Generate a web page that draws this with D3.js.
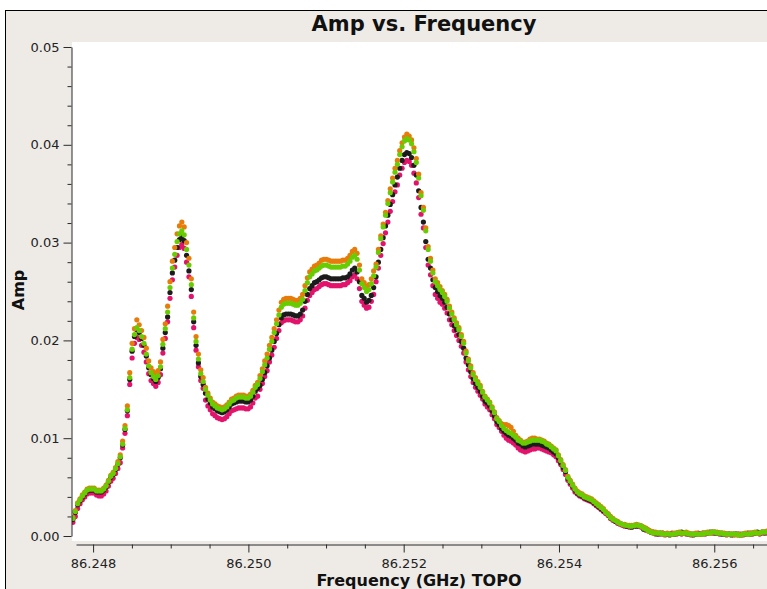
<!DOCTYPE html>
<html>
<head>
<meta charset="utf-8">
<title>Amp vs. Frequency</title>
<script src="https://cdn.jsdelivr.net/npm/d3@7"></script>
<style>
  html, body { margin: 0; padding: 0; background: #ffffff; }
  svg { display: block; }
</style>
</head>
<body>
<svg id="chart" width="767" height="589"></svg>
<script>
// Spectral window: first channel frequency and channel width (GHz)
const chanFreq0 = 86.24774;
const chanWidth = 0.0000305;

// Visibility amplitude per channel, one array per plotted series
const ampMagenta = [
0.0014,0.0020,0.0028,0.0033,0.0037,0.0040,0.0043,0.0044,0.0044,0.0044,
0.0042,0.0041,0.0041,0.0043,0.0046,0.0051,0.0056,0.0059,0.0064,0.0069,
0.0075,0.0090,0.0105,0.0123,0.0155,0.0182,0.0197,0.0203,0.0201,0.0195,
0.0188,0.0178,0.0166,0.0159,0.0156,0.0153,0.0157,0.0165,0.0187,0.0202,
0.0219,0.0243,0.0262,0.0275,0.0287,0.0295,0.0298,0.0294,0.0280,0.0265,
0.0245,0.0213,0.0190,0.0173,0.0159,0.0151,0.0139,0.0133,0.0129,0.0125,
0.0123,0.0121,0.0120,0.0119,0.0120,0.0122,0.0125,0.0128,0.0129,0.0130,
0.0131,0.0131,0.0131,0.0130,0.0130,0.0132,0.0136,0.0141,0.0143,0.0150,
0.0156,0.0163,0.0169,0.0178,0.0185,0.0193,0.0202,0.0210,0.0218,0.0220,
0.0221,0.0221,0.0221,0.0220,0.0219,0.0219,0.0221,0.0225,0.0233,0.0241,
0.0246,0.0249,0.0252,0.0253,0.0255,0.0257,0.0258,0.0258,0.0257,0.0256,
0.0256,0.0256,0.0256,0.0256,0.0257,0.0257,0.0259,0.0261,0.0265,0.0267,
0.0263,0.0253,0.0240,0.0236,0.0233,0.0234,0.0240,0.0247,0.0260,0.0274,
0.0287,0.0299,0.0310,0.0321,0.0332,0.0342,0.0352,0.0359,0.0369,0.0376,
0.0382,0.0384,0.0383,0.0379,0.0371,0.0361,0.0346,0.0329,0.0315,0.0295,
0.0277,0.0267,0.0256,0.0247,0.0243,0.0239,0.0237,0.0233,0.0228,0.0221,
0.0216,0.0210,0.0205,0.0200,0.0194,0.0187,0.0178,0.0170,0.0163,0.0157,
0.0152,0.0148,0.0144,0.0140,0.0135,0.0132,0.0129,0.0124,0.0120,0.0114,
0.0111,0.0107,0.0103,0.0100,0.0098,0.0097,0.0095,0.0093,0.0090,0.0088,
0.0087,0.0086,0.0087,0.0088,0.0089,0.0089,0.0090,0.0090,0.0089,0.0088,
0.0087,0.0086,0.0085,0.0083,0.0081,0.0077,0.0073,0.0068,0.0063,0.0057,
0.0053,0.0049,0.0045,0.0043,0.0041,0.0040,0.0038,0.0037,0.0036,0.0035,
0.0033,0.0031,0.0029,0.0027,0.0025,0.0023,0.0021,0.0018,0.0016,0.0015,
0.0013,0.0012,0.0011,0.0010,0.0010,0.0009,0.0010,0.0010,0.0011,0.0010,
0.0009,0.0008,0.0006,0.0005,0.0004,0.0003,0.0002,0.0003,0.0002,0.0002,
0.0001,0.0002,0.0002,0.0003,0.0002,0.0002,0.0003,0.0002,0.0003,0.0002,
0.0002,0.0001,0.0002,0.0002,0.0003,0.0002,0.0002,0.0002,0.0003,0.0003,
0.0003,0.0004,0.0003,0.0002,0.0003,0.0002,0.0001,0.0002,0.0002,0.0001,
0.0002,0.0001,0.0002,0.0001,0.0002,0.0002,0.0003,0.0002,0.0003,0.0003,
0.0002,0.0003,0.0004,0.0003
];

const ampBlack = [
0.0017,0.0024,0.0032,0.0036,0.0040,0.0043,0.0046,0.0047,0.0047,0.0047,
0.0045,0.0045,0.0045,0.0047,0.0050,0.0055,0.0060,0.0063,0.0068,0.0073,
0.0080,0.0093,0.0109,0.0128,0.0160,0.0189,0.0204,0.0211,0.0208,0.0202,
0.0195,0.0184,0.0172,0.0165,0.0161,0.0158,0.0162,0.0171,0.0192,0.0208,
0.0224,0.0249,0.0269,0.0282,0.0295,0.0303,0.0306,0.0302,0.0287,0.0271,
0.0252,0.0219,0.0195,0.0177,0.0163,0.0155,0.0146,0.0140,0.0136,0.0132,
0.0130,0.0128,0.0127,0.0126,0.0127,0.0129,0.0132,0.0135,0.0136,0.0137,
0.0138,0.0138,0.0138,0.0137,0.0137,0.0139,0.0143,0.0148,0.0151,0.0154,
0.0160,0.0167,0.0174,0.0182,0.0190,0.0199,0.0207,0.0216,0.0223,0.0226,
0.0227,0.0227,0.0227,0.0226,0.0225,0.0225,0.0227,0.0231,0.0240,0.0247,
0.0253,0.0256,0.0259,0.0260,0.0262,0.0264,0.0265,0.0265,0.0264,0.0263,
0.0263,0.0263,0.0263,0.0263,0.0264,0.0264,0.0265,0.0268,0.0272,0.0274,
0.0270,0.0260,0.0246,0.0243,0.0239,0.0241,0.0246,0.0254,0.0265,0.0280,
0.0293,0.0305,0.0317,0.0328,0.0339,0.0349,0.0359,0.0367,0.0376,0.0384,
0.0390,0.0392,0.0391,0.0387,0.0379,0.0369,0.0353,0.0336,0.0321,0.0301,
0.0283,0.0274,0.0262,0.0254,0.0250,0.0246,0.0243,0.0239,0.0234,0.0227,
0.0221,0.0215,0.0211,0.0206,0.0199,0.0192,0.0182,0.0175,0.0168,0.0161,
0.0156,0.0152,0.0148,0.0143,0.0138,0.0136,0.0133,0.0128,0.0123,0.0117,
0.0114,0.0110,0.0107,0.0105,0.0103,0.0102,0.0100,0.0098,0.0095,0.0094,
0.0092,0.0091,0.0092,0.0093,0.0094,0.0094,0.0094,0.0094,0.0093,0.0092,
0.0091,0.0090,0.0088,0.0086,0.0084,0.0080,0.0075,0.0070,0.0066,0.0059,
0.0055,0.0051,0.0047,0.0044,0.0042,0.0041,0.0039,0.0038,0.0037,0.0036,
0.0034,0.0032,0.0030,0.0028,0.0026,0.0024,0.0022,0.0019,0.0017,0.0015,
0.0014,0.0013,0.0012,0.0011,0.0010,0.0010,0.0009,0.0011,0.0010,0.0011,
0.0010,0.0007,0.0007,0.0006,0.0004,0.0004,0.0003,0.0002,0.0003,0.0003,
0.0002,0.0002,0.0001,0.0002,0.0002,0.0003,0.0003,0.0004,0.0003,0.0003,
0.0002,0.0002,0.0001,0.0002,0.0002,0.0002,0.0003,0.0003,0.0003,0.0004,
0.0004,0.0003,0.0003,0.0003,0.0002,0.0002,0.0002,0.0002,0.0001,0.0002,
0.0002,0.0002,0.0001,0.0002,0.0002,0.0003,0.0002,0.0003,0.0003,0.0004,
0.0003,0.0004,0.0003,0.0004
];

const ampOrange = [
0.0019,0.0026,0.0034,0.0038,0.0042,0.0045,0.0048,0.0049,0.0049,0.0049,
0.0047,0.0047,0.0047,0.0049,0.0052,0.0057,0.0062,0.0065,0.0070,0.0076,
0.0083,0.0097,0.0113,0.0133,0.0167,0.0197,0.0212,0.0221,0.0216,0.0210,
0.0203,0.0192,0.0179,0.0172,0.0168,0.0165,0.0169,0.0178,0.0201,0.0217,
0.0235,0.0260,0.0281,0.0295,0.0309,0.0317,0.0321,0.0316,0.0300,0.0284,
0.0263,0.0229,0.0204,0.0186,0.0170,0.0162,0.0152,0.0146,0.0141,0.0137,
0.0135,0.0133,0.0132,0.0131,0.0132,0.0134,0.0137,0.0140,0.0141,0.0143,
0.0144,0.0144,0.0144,0.0143,0.0143,0.0145,0.0149,0.0154,0.0157,0.0164,
0.0171,0.0179,0.0186,0.0195,0.0203,0.0212,0.0221,0.0231,0.0239,0.0242,
0.0243,0.0243,0.0243,0.0242,0.0241,0.0241,0.0243,0.0247,0.0256,0.0264,
0.0270,0.0273,0.0276,0.0277,0.0279,0.0282,0.0283,0.0283,0.0282,0.0281,
0.0281,0.0281,0.0281,0.0281,0.0282,0.0282,0.0284,0.0287,0.0291,0.0293,
0.0289,0.0277,0.0263,0.0259,0.0255,0.0257,0.0263,0.0271,0.0278,0.0293,
0.0307,0.0319,0.0331,0.0343,0.0355,0.0366,0.0376,0.0384,0.0394,0.0402,
0.0408,0.0411,0.0409,0.0405,0.0397,0.0386,0.0370,0.0351,0.0336,0.0315,
0.0296,0.0284,0.0272,0.0263,0.0259,0.0255,0.0251,0.0247,0.0242,0.0235,
0.0229,0.0223,0.0218,0.0213,0.0206,0.0199,0.0189,0.0181,0.0174,0.0167,
0.0162,0.0158,0.0154,0.0148,0.0143,0.0140,0.0137,0.0132,0.0127,0.0121,
0.0118,0.0115,0.0114,0.0114,0.0113,0.0111,0.0107,0.0103,0.0100,0.0098,
0.0096,0.0096,0.0097,0.0099,0.0100,0.0100,0.0099,0.0099,0.0098,0.0097,
0.0095,0.0094,0.0092,0.0090,0.0088,0.0083,0.0078,0.0073,0.0068,0.0061,
0.0057,0.0053,0.0049,0.0046,0.0044,0.0043,0.0041,0.0040,0.0039,0.0038,
0.0036,0.0034,0.0032,0.0030,0.0028,0.0025,0.0023,0.0020,0.0018,0.0016,
0.0015,0.0013,0.0012,0.0012,0.0011,0.0011,0.0011,0.0011,0.0012,0.0011,
0.0010,0.0009,0.0008,0.0006,0.0005,0.0004,0.0004,0.0003,0.0003,0.0003,
0.0002,0.0003,0.0002,0.0002,0.0003,0.0003,0.0004,0.0003,0.0003,0.0004,
0.0003,0.0002,0.0002,0.0003,0.0002,0.0002,0.0003,0.0003,0.0004,0.0003,
0.0004,0.0004,0.0004,0.0003,0.0003,0.0003,0.0002,0.0002,0.0002,0.0002,
0.0001,0.0002,0.0001,0.0002,0.0003,0.0002,0.0003,0.0003,0.0004,0.0003,
0.0003,0.0004,0.0004,0.0005
];

const ampGreen = [
0.0018,0.0025,0.0033,0.0037,0.0041,0.0044,0.0047,0.0048,0.0048,0.0048,
0.0046,0.0046,0.0046,0.0048,0.0051,0.0056,0.0061,0.0064,0.0069,0.0074,
0.0081,0.0094,0.0110,0.0129,0.0162,0.0191,0.0206,0.0213,0.0210,0.0204,
0.0197,0.0186,0.0174,0.0167,0.0163,0.0160,0.0164,0.0173,0.0196,0.0212,
0.0229,0.0254,0.0274,0.0288,0.0301,0.0309,0.0312,0.0308,0.0293,0.0277,
0.0257,0.0223,0.0199,0.0181,0.0166,0.0158,0.0150,0.0144,0.0139,0.0135,
0.0133,0.0131,0.0130,0.0129,0.0130,0.0132,0.0135,0.0138,0.0139,0.0141,
0.0142,0.0142,0.0142,0.0141,0.0141,0.0143,0.0147,0.0152,0.0155,0.0161,
0.0168,0.0175,0.0182,0.0191,0.0199,0.0208,0.0217,0.0226,0.0234,0.0237,
0.0238,0.0238,0.0238,0.0237,0.0236,0.0236,0.0238,0.0242,0.0251,0.0259,
0.0265,0.0268,0.0271,0.0272,0.0274,0.0276,0.0277,0.0277,0.0276,0.0275,
0.0275,0.0275,0.0275,0.0275,0.0276,0.0276,0.0278,0.0281,0.0285,0.0287,
0.0283,0.0272,0.0258,0.0254,0.0250,0.0252,0.0258,0.0266,0.0275,0.0290,
0.0304,0.0316,0.0328,0.0340,0.0351,0.0362,0.0372,0.0380,0.0390,0.0398,
0.0404,0.0406,0.0405,0.0401,0.0393,0.0382,0.0366,0.0348,0.0333,0.0312,
0.0293,0.0281,0.0269,0.0260,0.0256,0.0252,0.0249,0.0245,0.0240,0.0233,
0.0227,0.0221,0.0216,0.0211,0.0204,0.0197,0.0187,0.0179,0.0172,0.0165,
0.0160,0.0156,0.0152,0.0147,0.0142,0.0139,0.0136,0.0131,0.0126,0.0120,
0.0117,0.0113,0.0110,0.0108,0.0106,0.0105,0.0103,0.0101,0.0098,0.0097,
0.0095,0.0095,0.0096,0.0097,0.0098,0.0098,0.0098,0.0098,0.0097,0.0096,
0.0094,0.0093,0.0091,0.0089,0.0087,0.0082,0.0077,0.0072,0.0067,0.0060,
0.0056,0.0052,0.0048,0.0045,0.0043,0.0042,0.0040,0.0039,0.0038,0.0037,
0.0035,0.0033,0.0031,0.0029,0.0027,0.0024,0.0022,0.0019,0.0017,0.0016,
0.0014,0.0013,0.0012,0.0011,0.0011,0.0010,0.0010,0.0011,0.0011,0.0011,
0.0010,0.0008,0.0007,0.0005,0.0004,0.0003,0.0003,0.0003,0.0003,0.0002,
0.0002,0.0002,0.0002,0.0002,0.0002,0.0003,0.0003,0.0003,0.0003,0.0003,
0.0002,0.0002,0.0002,0.0002,0.0002,0.0002,0.0002,0.0003,0.0003,0.0003,
0.0004,0.0004,0.0003,0.0003,0.0003,0.0002,0.0002,0.0002,0.0002,0.0002,
0.0002,0.0001,0.0001,0.0002,0.0002,0.0002,0.0002,0.0003,0.0003,0.0003,
0.0003,0.0004,0.0004,0.0004
];

// Axis ticks
const xTicks = [86.248, 86.250, 86.252, 86.254, 86.256];
const yTicks = [0.00, 0.01, 0.02, 0.03, 0.04, 0.05];

// Drawing order: later series sit on top
const series = [
  { color: "#e3136b", values: ampMagenta },
  { color: "#1c1c1c", values: ampBlack },
  { color: "#e87c0a", values: ampOrange },
  { color: "#68cc02", values: ampGreen }
];

const svg = d3.select("#chart");
const W = 767, H = 589;

// Panel frame
svg.append("rect")
  .attr("x", 5.5).attr("y", 10.5)
  .attr("width", W + 20).attr("height", H + 20)
  .attr("fill", "#eeebe7").attr("stroke", "#000").attr("stroke-width", 1);

// Plot canvas
const canvas = { left: 72, top: 42, right: W + 5, bottom: 541 };
svg.append("rect")
  .attr("x", canvas.left).attr("y", canvas.top)
  .attr("width", canvas.right - canvas.left).attr("height", canvas.bottom - canvas.top)
  .attr("fill", "#ffffff");

// Scales
const x = d3.scaleLinear().domain([86.24778, 86.2568]).range([76, 776.4]);
const y = d3.scaleLinear().domain([0, 0.05]).range([536, 47]);

// Points
svg.append("clipPath").attr("id", "canvasClip")
  .append("rect")
  .attr("x", canvas.left).attr("y", canvas.top)
  .attr("width", canvas.right - canvas.left).attr("height", canvas.bottom - canvas.top);

const pts = svg.append("g").attr("clip-path", "url(#canvasClip)");
series.forEach(s => {
  pts.append("g")
    .attr("fill", s.color)
    .selectAll("circle")
    .data(s.values)
    .join("circle")
    .attr("cx", (d, i) => x(chanFreq0 + i * chanWidth))
    .attr("cy", d => y(d))
    .attr("r", 2.6);
});

// Axes
const axisColor = "#2a2a2a";
const tickFont = "DejaVu Sans, Verdana, sans-serif";

function styleAxis(g) {
  g.selectAll("path.domain").attr("stroke", axisColor).attr("stroke-width", 1);
  g.selectAll(".tick line").attr("stroke", axisColor).attr("stroke-width", 1);
  g.selectAll(".tick text")
    .attr("fill", "#222")
    .style("font-family", tickFont)
    .style("font-size", "13px");
}

const yMinor = d3.range(0, 0.0501, 0.002).filter(v => Math.abs(v * 100 - Math.round(v * 100)) > 1e-6);
const xMinor = d3.range(86.2480, 86.2570, 0.0005).filter(v => Math.abs(v * 500 - Math.round(v * 500)) > 1e-6);

const gy = svg.append("g").attr("transform", "translate(71.5,0)")
  .call(d3.axisLeft(y).tickValues(yTicks).tickSize(8).tickSizeOuter(0).tickPadding(4)
    .tickFormat(d3.format(".2f")));
styleAxis(gy);
const gyMinor = svg.append("g").attr("transform", "translate(71.5,0)")
  .call(d3.axisLeft(y).tickValues(yMinor).tickSize(4).tickSizeOuter(0).tickFormat(""));
gyMinor.select("path.domain").remove();
styleAxis(gyMinor);

const gx = svg.append("g").attr("transform", "translate(0,544.5)")
  .call(d3.axisBottom(x).tickValues(xTicks).tickSize(8).tickSizeOuter(0).tickPadding(6)
    .tickFormat(d3.format(".3f")));
styleAxis(gx);
const gxMinor = svg.append("g").attr("transform", "translate(0,544.5)")
  .call(d3.axisBottom(x).tickValues(xMinor).tickSize(4).tickSizeOuter(0).tickFormat(""));
gxMinor.select("path.domain").remove();
styleAxis(gxMinor);

// Titles
svg.append("text")
  .attr("x", 424).attr("y", 30.5)
  .attr("text-anchor", "middle")
  .style("font-family", tickFont).style("font-weight", "bold").style("font-size", "21px")
  .attr("fill", "#111")
  .text("Amp vs. Frequency");

svg.append("text")
  .attr("x", 419).attr("y", 586)
  .attr("text-anchor", "middle")
  .style("font-family", tickFont).style("font-weight", "bold").style("font-size", "16px")
  .attr("fill", "#111")
  .text("Frequency (GHz) TOPO");

svg.append("text")
  .attr("transform", "translate(24,290) rotate(-90)")
  .attr("text-anchor", "middle")
  .style("font-family", tickFont).style("font-weight", "bold").style("font-size", "16px")
  .attr("fill", "#111")
  .text("Amp");
</script>
</body>
</html>
